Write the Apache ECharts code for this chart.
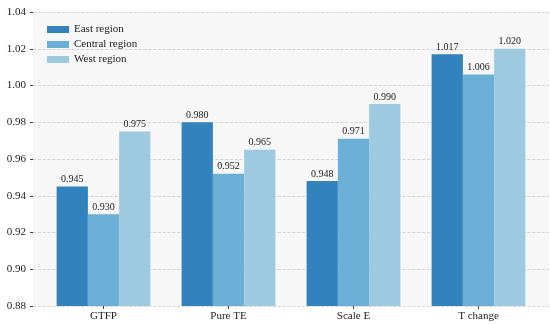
<!DOCTYPE html>
<html><head><meta charset="utf-8">
<script src="https://cdn.jsdelivr.net/npm/echarts@6/dist/echarts.min.js"></script>
<style>html,body{margin:0;padding:0;background:#fff}#c{width:550px;height:324px}</style>
</head><body><div id="c"></div>
<script>
const categories = ['GTFP', 'Pure TE', 'Scale E', 'T change'];
const seriesNames = ['East region', 'Central region', 'West region'];
const eastValues = [0.945, 0.980, 0.948, 1.017];
const centralValues = [0.930, 0.952, 0.971, 1.006];
const westValues = [0.975, 0.965, 0.990, 1.020];
const yTicks = [0.88, 0.90, 0.92, 0.94, 0.96, 0.98, 1.00, 1.02, 1.04];
const colors = ['#3182bd', '#6baed6', '#9ecae1'];
const font = '"Liberation Serif", "Times New Roman", serif';

const chart = echarts.init(document.getElementById('c'));
const mk = (name, data, color) => ({
  name, type: 'bar', data, barGap: '0%', barCategoryGap: '25%',
  xAxisIndex: 0, yAxisIndex: 0,
  itemStyle: { color },
  label: { show: true, position: 'top', distance: 2, fontFamily: font, fontSize: 10, color: '#222',
    formatter: p => p.value.toFixed(3) }
});
const yMin = yTicks[0], yMax = yTicks[yTicks.length - 1];
chart.setOption({
  animation: false,
  textStyle: { fontFamily: font },
  grid: [
    { left: 41, right: 9, top: 12, bottom: 18 },
    { left: 33, right: 1, top: 12, bottom: 18, show: true, backgroundColor: '#f7f7f7', borderWidth: 0, z: -1 }
  ],
  legend: {
    left: 42, top: 19, orient: 'vertical', itemWidth: 22, itemHeight: 7, itemGap: 4,
    icon: 'rect', textStyle: { fontFamily: font, fontSize: 11, color: '#222' },
    data: seriesNames
  },
  xAxis: [{
    type: 'category', data: categories, gridIndex: 0,
    axisLine: { show: false },
    axisTick: { show: true, alignWithLabel: true, length: 3, lineStyle: { color: '#444' } },
    axisLabel: { fontFamily: font, fontSize: 11, color: '#222', margin: 5 }
  }, {
    type: 'value', gridIndex: 1, min: 0, max: 1, show: false
  }],
  yAxis: [{
    type: 'value', gridIndex: 0, min: yMin, max: yMax, interval: 0.02, show: false
  }, {
    type: 'value', gridIndex: 1, min: yMin, max: yMax, interval: 0.02,
    axisLine: { show: false },
    axisTick: { show: true, length: 3, lineStyle: { color: '#444' } },
    axisLabel: { fontFamily: font, fontSize: 11, color: '#222', margin: 7, formatter: v => v.toFixed(2) },
    splitLine: { show: true, lineStyle: { type: 'dashed', color: '#cccccc', width: 0.8 } }
  }],
  series: [
    mk(seriesNames[0], eastValues, colors[0]),
    mk(seriesNames[1], centralValues, colors[1]),
    mk(seriesNames[2], westValues, colors[2])
  ]
});
</script></body></html>
